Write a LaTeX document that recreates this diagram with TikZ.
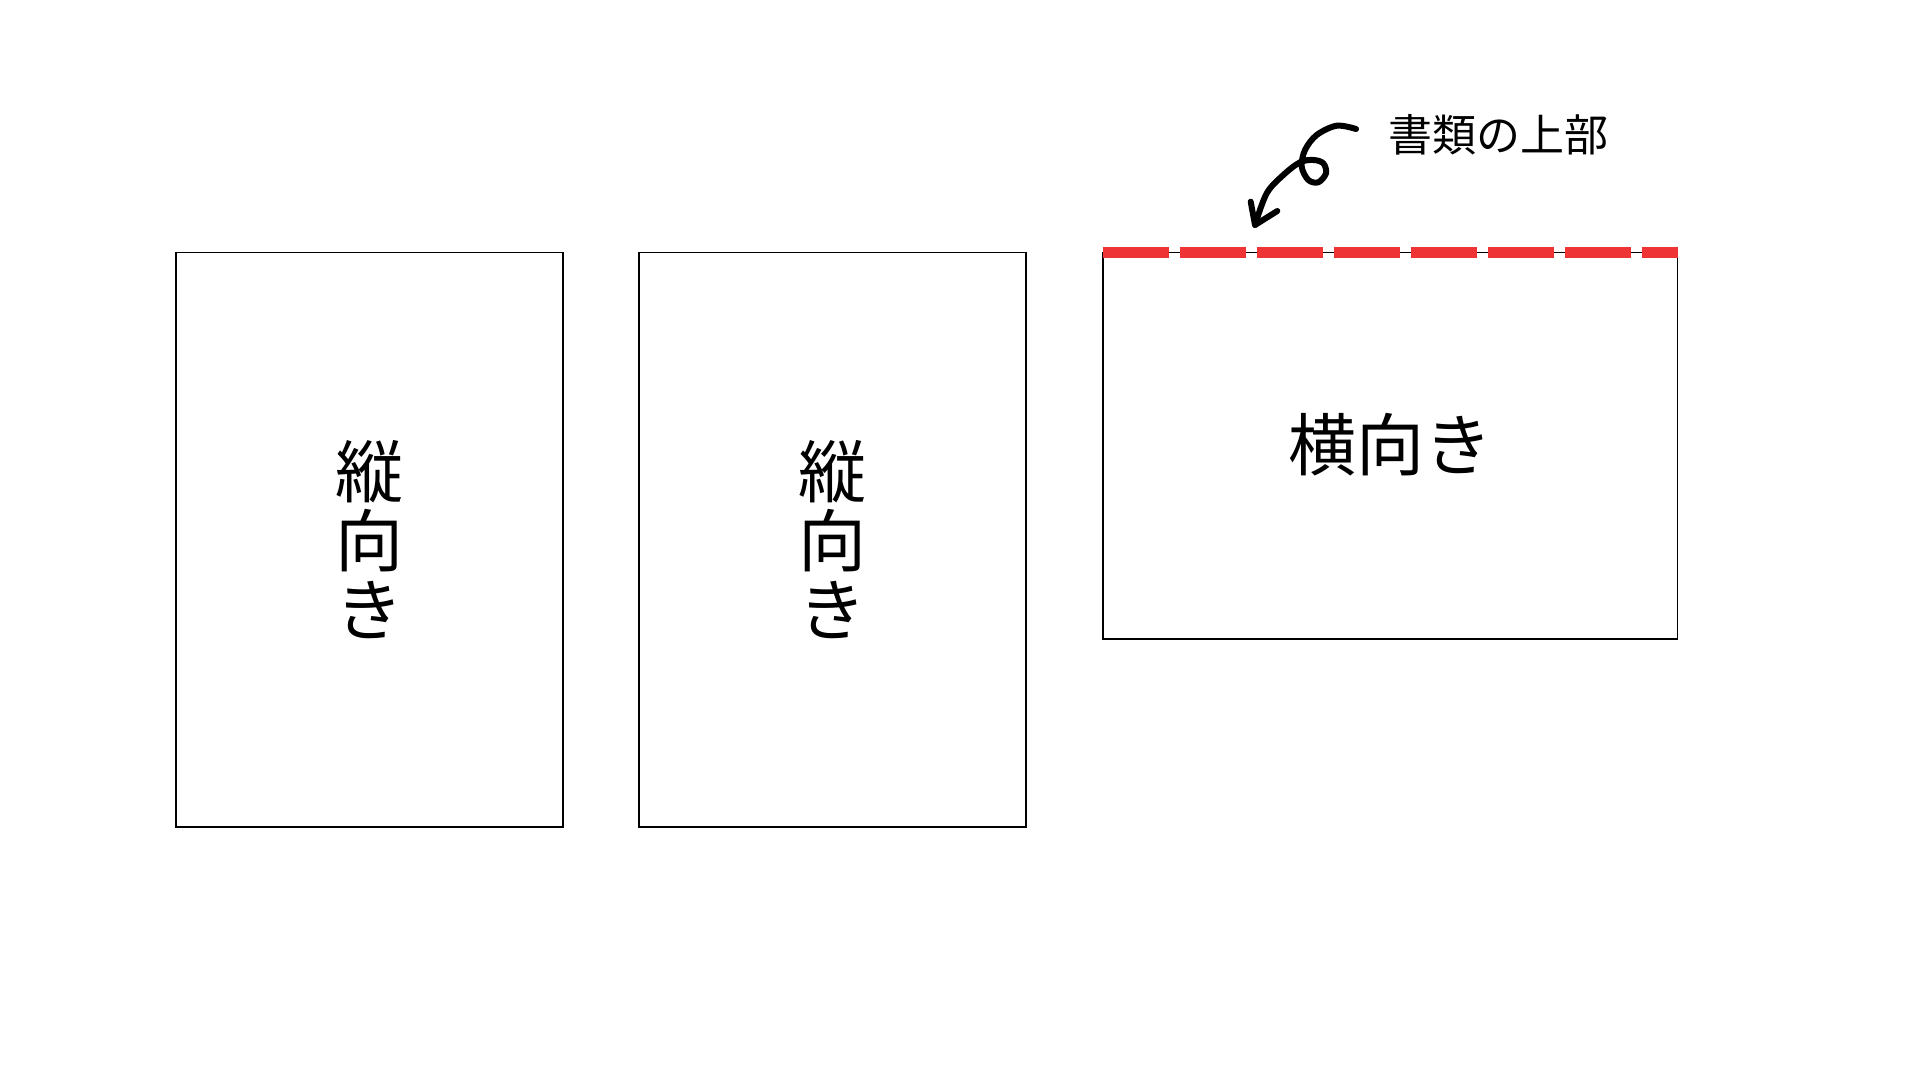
\documentclass[tikz,border=0pt]{standalone}
\usepackage{fontspec}
\newfontfamily\jpfont{Noto Sans CJK JP}
\definecolor{topred}{RGB}{238,52,52}
\tikzset{
  paper/.style={draw=black, line width=0.8pt, fill=white},
  bigjp/.style={font=\jpfont\fontsize{34}{34.5}\selectfont, inner sep=0pt, align=center},
  smalljp/.style={font=\jpfont\fontsize{22}{26}\selectfont, inner sep=0pt},
  topedge/.style={draw=topred, line width=5.4pt, dash pattern=on 33pt off 5.5pt},
  curly/.style={draw=black, line width=3pt, line cap=round, line join=round}
}
\begin{document}
\begin{tikzpicture}[x=0.5pt, y=-0.5pt]
\useasboundingbox (0,0) rectangle (1920,1080);
% portrait sheets
\draw[paper] (176,252.7) rectangle (563,826.7);
\draw[paper] (639,252.7) rectangle (1026,826.7);
\node[bigjp] (p1) at (369.5,539.5) {縦\\向\\き};
\node[bigjp] (p2) at (832.5,539.5) {縦\\向\\き};
% landscape sheet
\draw[paper] (1103,252.5) rectangle (1677.5,639);
\node[bigjp] (l1) at (1390.3,445) {横向き};
\coordinate (topL) at (1102.5,252.8);
\coordinate (topR) at (1678,252.8);
\draw[topedge] (topL) -- (topR);
% label and curly arrow
\node[smalljp] (lbl) at (1498,134.5) {書類の上部};
\coordinate (astart) at (1356,129);
\coordinate (atip) at (1255,225);
\draw[curly] plot[smooth, tension=0.55] coordinates {
  (astart) (1336.7,125.7) (1316.7,135) (1305,150) (1301.7,166.7)
  (1308.3,180) (1318.3,182.3) (1326,173.3) (1323.3,163.3)
  (1313.3,160) (1300,162.3) (1283.3,175) (1266.7,193.3) (atip)};
\draw[curly] (1250.7,201.7) -- (atip) -- (1277.3,211);
\end{tikzpicture}
\end{document}
